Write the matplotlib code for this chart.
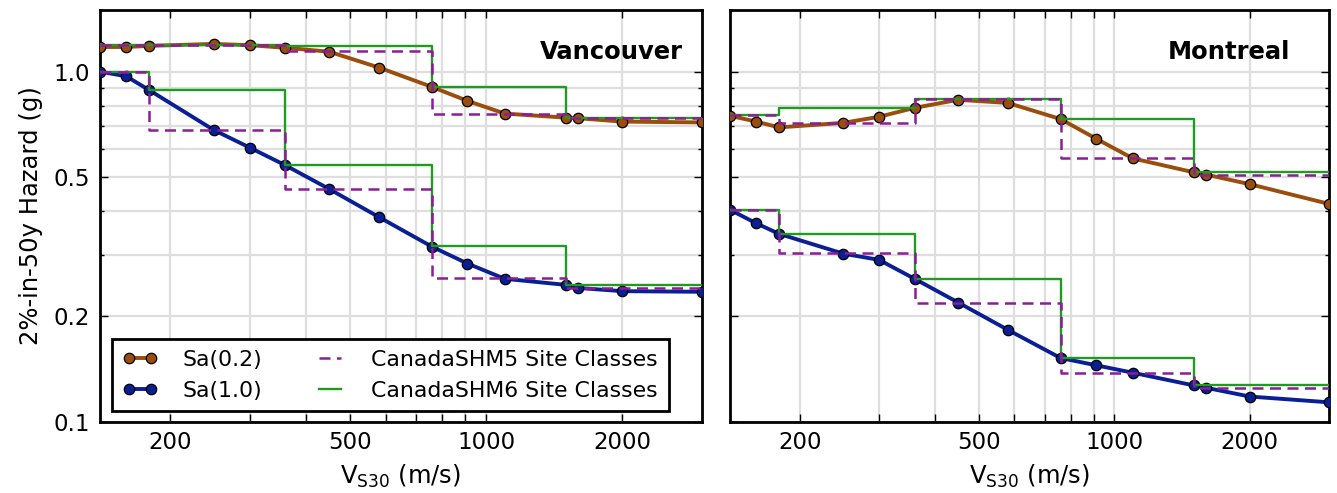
import matplotlib
matplotlib.use("Agg")
import matplotlib.pyplot as plt
from matplotlib.ticker import FixedLocator, FixedFormatter, NullLocator, NullFormatter

# ---------------- data ----------------
vs30 = [140, 160, 180, 250, 300, 360, 450, 580, 760, 910, 1100, 1500, 1600, 2000, 3000]
class_edges = [140, 180, 360, 760, 1500, 3000]

van_sa02 = [1.176, 1.176, 1.185, 1.20, 1.19, 1.17, 1.14, 1.027, 0.904, 0.825, 0.759, 0.739, 0.736, 0.720, 0.716]
van_sa10 = [1.0, 0.970, 0.885, 0.681, 0.607, 0.540, 0.462, 0.384, 0.316, 0.283, 0.256, 0.246, 0.241, 0.236, 0.235]
van_shm5_sa02 = [1.19, 1.19, 1.145, 0.759, 0.736]
van_shm6_sa02 = [1.19, 1.19, 1.18, 0.904, 0.739]
van_shm5_sa10 = [1.0, 0.681, 0.462, 0.257, 0.241]
van_shm6_sa10 = [1.0, 0.885, 0.540, 0.318, 0.246]

mtl_sa02 = [0.748, 0.720, 0.693, 0.714, 0.743, 0.788, 0.831, 0.814, 0.732, 0.644, 0.565, 0.516, 0.508, 0.477, 0.419]
mtl_sa10 = [0.403, 0.369, 0.344, 0.302, 0.290, 0.256, 0.219, 0.183, 0.152, 0.145, 0.138, 0.127, 0.125, 0.118, 0.1136]
mtl_shm5_sa02 = [0.750, 0.714, 0.833, 0.566, 0.508]
mtl_shm6_sa02 = [0.751, 0.788, 0.833, 0.733, 0.517]
mtl_shm5_sa10 = [0.403, 0.303, 0.219, 0.138, 0.125]
mtl_shm6_sa10 = [0.403, 0.344, 0.256, 0.152, 0.127]

xticks = [200, 300, 400, 500, 600, 700, 800, 900, 1000, 2000]
xtick_labels = ['200', '', '', '500', '', '', '', '', '1000', '2000']
yticks = [0.1, 0.2, 0.5, 1.0]
ytick_labels = ['0.1', '0.2', '0.5', '1.0']
yticks_minor = [0.3, 0.4, 0.6, 0.7, 0.8, 0.9]

series_labels = ['Sa(0.2)', 'Sa(1.0)', 'CanadaSHM5 Site Classes', 'CanadaSHM6 Site Classes']
titles = ['Vancouver', 'Montreal']

# ---------------- style ----------------
C_BROWN = '#9a4d0c'
C_BLUE = '#0a1f94'
C_GREEN = '#1f9c1f'
C_PURPLE = '#8c1c98'

W, H = 1337, 493
fig = plt.figure(figsize=(W / 100, H / 100), dpi=100)
ax1 = fig.add_axes([100 / W, 1 - 421.7 / H, 601.7 / W, 411.7 / H])
ax2 = fig.add_axes([730 / W, 1 - 421.7 / H, 599 / W, 411.7 / H])


def steps(vals):
    return list(vals) + [vals[-1]]


def draw(ax, sa02, sa10, s5_02, s6_02, s5_10, s6_10):
    h1, = ax.plot(vs30, sa02, '-o', color=C_BROWN, lw=2.8, ms=7.5, mec='black', mew=0.9,
                  mfc=C_BROWN, zorder=3, label=series_labels[0])
    h2, = ax.plot(vs30, sa10, '-o', color=C_BLUE, lw=2.8, ms=7.5, mec='black', mew=0.9,
                  mfc=C_BLUE, zorder=3, label=series_labels[1])
    h4, = ax.plot(class_edges, steps(s6_02), drawstyle='steps-post', color=C_GREEN, lw=1.7,
                  zorder=4, label=series_labels[3])
    ax.plot(class_edges, steps(s6_10), drawstyle='steps-post', color=C_GREEN, lw=1.7, zorder=4)
    h3, = ax.plot(class_edges, steps(s5_02), drawstyle='steps-post', color=C_PURPLE, lw=1.8,
                  ls=(0, (4.4, 2.6)), zorder=5, label=series_labels[2])
    ax.plot(class_edges, steps(s5_10), drawstyle='steps-post', color=C_PURPLE, lw=1.8,
            ls=(0, (4.4, 2.6)), zorder=5)

    ax.set_xscale('log')
    ax.set_yscale('log')
    ax.set_xlim(140, 3000)
    ax.set_ylim(0.1, 1.5)
    ax.xaxis.set_major_locator(FixedLocator(xticks))
    ax.xaxis.set_major_formatter(FixedFormatter(xtick_labels))
    ax.xaxis.set_minor_locator(NullLocator())
    ax.yaxis.set_major_locator(FixedLocator(yticks))
    ax.yaxis.set_major_formatter(FixedFormatter(ytick_labels))
    ax.yaxis.set_minor_locator(FixedLocator(yticks_minor))
    ax.yaxis.set_minor_formatter(NullFormatter())
    ax.grid(True, which='major', axis='both', color='#dedede', lw=1.6, zorder=0)
    ax.grid(True, which='minor', axis='y', color='#dedede', lw=1.6, zorder=0)
    ax.set_axisbelow(True)
    ax.tick_params(which='both', direction='in', top=True, right=True, labelsize=16.5,
                   width=1.0, color='black', pad=7)
    ax.tick_params(which='major', length=6)
    ax.tick_params(which='minor', length=3)
    for sp in ax.spines.values():
        sp.set_linewidth(2.0)
        sp.set_color('black')
    ax.set_xlabel(r'V$_{\mathrm{S30}}$ (m/s)', fontsize=17.5, labelpad=6)
    return [h1, h2, h3, h4]


handles = draw(ax1, van_sa02, van_sa10, van_shm5_sa02, van_shm6_sa02, van_shm5_sa10, van_shm6_sa10)
draw(ax2, mtl_sa02, mtl_sa10, mtl_shm5_sa02, mtl_shm6_sa02, mtl_shm5_sa10, mtl_shm6_sa10)
ax2.tick_params(labelleft=False)

ax1.set_ylabel('2%-in-50y Hazard (g)', fontsize=17.5, labelpad=8)

ax1.text(0.969, 0.881, titles[0], transform=ax1.transAxes, ha='right', va='baseline',
         fontsize=17.5, fontweight='bold', zorder=10)
ax2.text(0.935, 0.881, titles[1], transform=ax2.transAxes, ha='right', va='baseline',
         fontsize=17.5, fontweight='bold', zorder=10)

leg = ax1.legend(handles, [h.get_label() for h in handles], loc='lower left',
                 bbox_to_anchor=(0.0196, 0.0248), borderaxespad=0, ncol=2, fontsize=15.8,
                 frameon=True, fancybox=False, framealpha=1, edgecolor='black',
                 handlelength=1.6, handletextpad=1.1, columnspacing=2.3, numpoints=2,
                 labelspacing=0.5, borderpad=0.5)
leg.get_frame().set_linewidth(2.0)
leg.set_zorder(20)

fig.savefig('out.png', dpi=100)
